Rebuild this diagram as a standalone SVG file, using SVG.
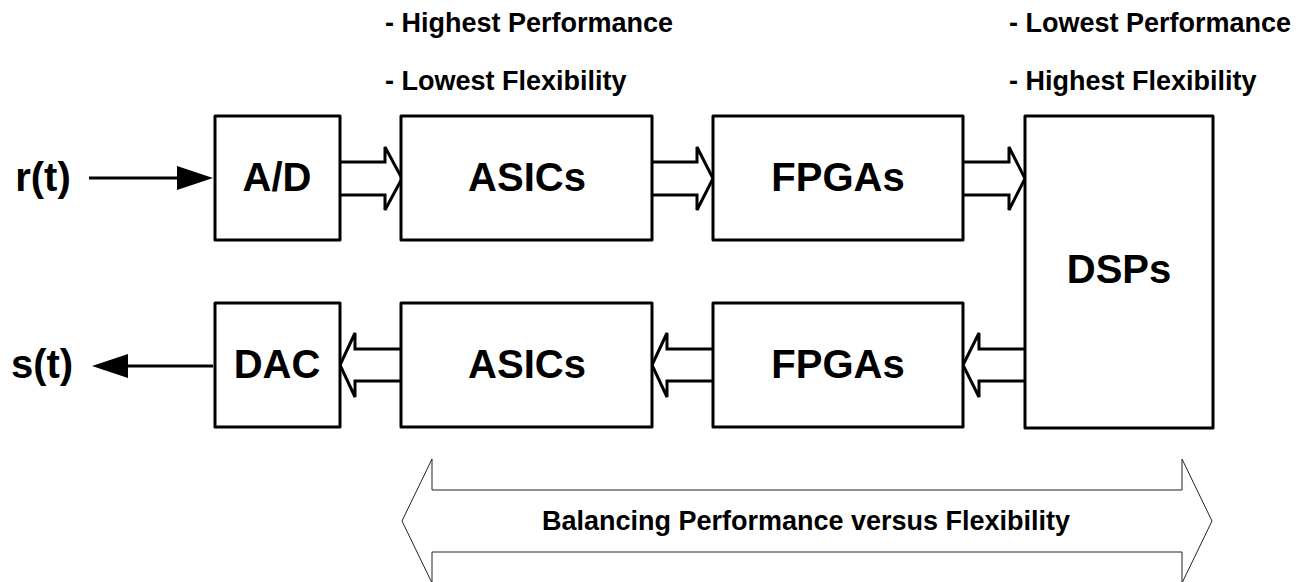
<svg xmlns="http://www.w3.org/2000/svg" width="1302" height="582" viewBox="0 0 1302 582">
  <style>
    .box { fill: #fff; stroke: #000; stroke-width: 3; stroke-linejoin: round; }
    .big { font-family: "Liberation Sans", Arial, sans-serif; font-weight: bold; font-size: 40px; fill: #000; text-anchor: middle; }
    .small { font-family: "Liberation Sans", Arial, sans-serif; font-weight: bold; font-size: 27px; fill: #000; }
    .hollow { fill: #fff; stroke: #000; stroke-width: 3; stroke-linejoin: miter; }
    .line { stroke: #000; stroke-width: 3; fill: none; }
    .head { fill: #000; stroke: none; }
    .wide { fill: #fff; stroke: #222; stroke-width: 1; }
  </style>
  <rect width="1302" height="582" fill="#fff"/>

  <g id="labels-top">
    <text class="small" x="385" y="32">- Highest Performance</text>
    <text class="small" x="385" y="90">- Lowest Flexibility</text>
    <text class="small" x="1009" y="32">- Lowest Performance</text>
    <text class="small" x="1009" y="90">- Highest Flexibility</text>
  </g>

  <g id="connectors">
    <line class="line" x1="89" y1="178" x2="180" y2="178"/>
    <polygon class="head" points="213,178 177,166 177,190"/>
    <line class="line" x1="213" y1="366" x2="125" y2="366"/>
    <polygon class="head" points="92,366 128,354 128,378"/>
    <path class="hollow" d="M340,162 H385 V147 L402,178.5 L385,210 V195 H340"/>
    <path class="hollow" d="M652,162 H697 V147 L713,178.5 L697,210 V195 H652"/>
    <path class="hollow" d="M963,162 H1009 V147 L1025,178.5 L1009,210 V195 H963"/>
    <path class="hollow" d="M401,349 H355 V333 L340,365 L355,397 V381 H401"/>
    <path class="hollow" d="M713,349 H667 V333 L652,365 L667,397 V381 H713"/>
    <path class="hollow" d="M1025,349 H979 V333 L963,365 L979,397 V381 H1025"/>
  </g>

  <g id="node-rt"><text class="big" x="43" y="191">r(t)</text></g>
  <g id="node-st"><text class="big" x="42" y="378">s(t)</text></g>

  <g id="node-ad">
    <rect class="box" x="215" y="116" width="125" height="124"/>
    <text class="big" x="277" y="191">A/D</text>
  </g>
  <g id="node-asics-top">
    <rect class="box" x="401" y="116" width="251" height="124"/>
    <text class="big" x="527" y="191">ASICs</text>
  </g>
  <g id="node-fpgas-top">
    <rect class="box" x="713" y="116" width="250" height="124"/>
    <text class="big" x="838" y="191">FPGAs</text>
  </g>
  <g id="node-dsps">
    <rect class="box" x="1025" y="116" width="188" height="312"/>
    <text class="big" x="1119" y="283">DSPs</text>
  </g>
  <g id="node-dac">
    <rect class="box" x="215" y="303" width="125" height="124"/>
    <text class="big" x="277" y="378">DAC</text>
  </g>
  <g id="node-asics-bottom">
    <rect class="box" x="401" y="303" width="251" height="124"/>
    <text class="big" x="527" y="378">ASICs</text>
  </g>
  <g id="node-fpgas-bottom">
    <rect class="box" x="713" y="303" width="250" height="124"/>
    <text class="big" x="838" y="378">FPGAs</text>
  </g>

  <g id="node-balance">
    <polygon class="wide" points="402,521 432,459 432,490 1182,490 1182,459 1212,521 1182,583 1182,552 432,552 432,583"/>
    <text class="small" x="806" y="530" text-anchor="middle">Balancing Performance versus Flexibility</text>
  </g>
</svg>
